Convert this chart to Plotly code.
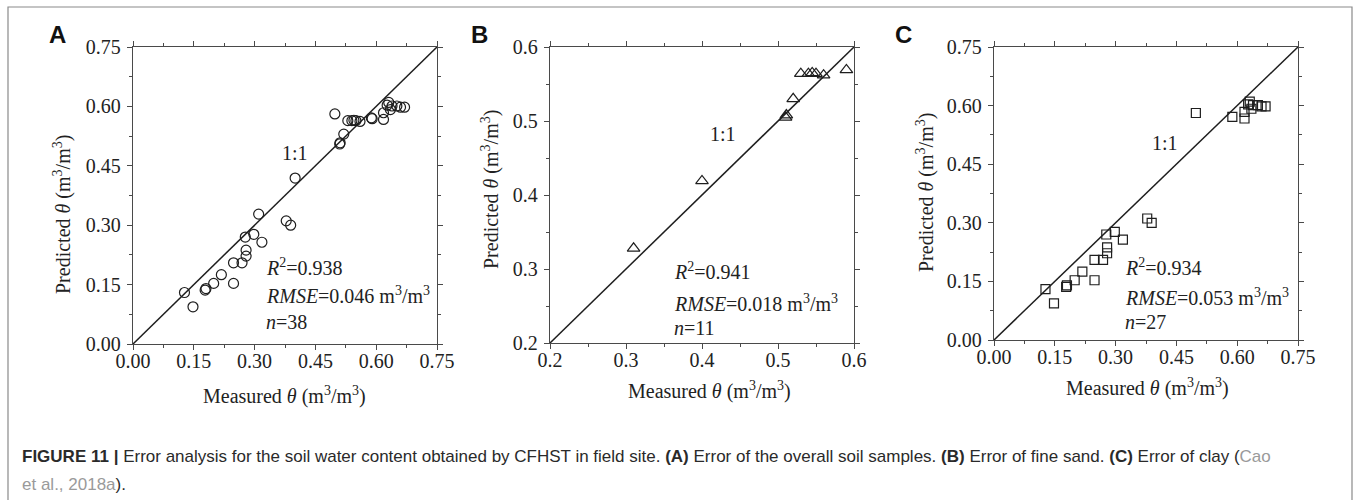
import plotly.graph_objects as go

# ---------------- data ----------------
sand_measured = [0.31, 0.40, 0.51, 0.511, 0.52, 0.53, 0.54, 0.545, 0.55, 0.56, 0.59]
sand_predicted = [0.328, 0.419, 0.505, 0.508, 0.53, 0.564, 0.564, 0.565, 0.564, 0.562, 0.569]

clay_measured = [0.127, 0.148, 0.178, 0.180, 0.199, 0.218, 0.248, 0.248, 0.269, 0.279,
                 0.279, 0.277, 0.298, 0.318, 0.378, 0.389, 0.498, 0.588, 0.618, 0.618,
                 0.627, 0.635, 0.639, 0.651, 0.660, 0.670, 0.631]
clay_predicted = [0.130, 0.094, 0.136, 0.140, 0.153, 0.175, 0.153, 0.205, 0.205, 0.222,
                  0.237, 0.270, 0.277, 0.257, 0.311, 0.300, 0.581, 0.571, 0.567, 0.584,
                  0.603, 0.592, 0.601, 0.601, 0.598, 0.598, 0.610]

overall_measured = sand_measured + clay_measured
overall_predicted = sand_predicted + clay_predicted

range_a = [0.0, 0.75]
range_b = [0.2, 0.6]
range_c = [0.0, 0.75]

ticks_a = [0.0, 0.15, 0.30, 0.45, 0.60, 0.75]
ticks_b = [0.2, 0.3, 0.4, 0.5, 0.6]
ticks_c = [0.0, 0.15, 0.30, 0.45, 0.60, 0.75]

stats_a = ["0.938", "0.046", "38"]
stats_b = ["0.941", "0.018", "11"]
stats_c = ["0.934", "0.053", "27"]

# ---------------- styling ----------------
SERIF = "Liberation Serif, Times New Roman, serif"
SANS = "Liberation Sans, Arial, sans-serif"
INK = "#1e1e1e"
AXC = "#4a4a4a"
W, H = 1356, 500

fig = go.Figure()

panels = [
    dict(ax="", xs=overall_measured, ys=overall_predicted, rng=range_a, ticks=ticks_a,
         fmt=".2f", minor=0.075, sym="circle-open", size=10, stats=stats_a,
         dom_x=(133, 437), dom_y=(47, 344),
         one=(0.40, 0.482), st=(0.322, 0.195, 0.124, 0.056),
         xt=(284, 395), yt=(63, 215), letter=("A", 57)),
    dict(ax="2", xs=sand_measured, ys=sand_predicted, rng=range_b, ticks=ticks_b,
         fmt=".1f", minor=0.05, sym="triangle-up-open", size=11, stats=stats_b,
         dom_x=(550, 854), dom_y=(47, 343),
         one=(0.428, 0.483), st=(0.36, 0.297, 0.254, 0.220),
         xt=(709, 390), yt=(490, 190), letter=("B", 479)),
    dict(ax="3", xs=clay_measured, ys=clay_predicted, rng=range_c, ticks=ticks_c,
         fmt=".2f", minor=0.075, sym="square-open", size=9, stats=stats_c,
         dom_x=(994, 1298), dom_y=(47, 340),
         one=(0.421, 0.503), st=(0.318, 0.1875, 0.111, 0.047),
         xt=(1147, 387), yt=(925, 193), letter=("C", 903)),
]

annotations = []
for p in panels:
    xa = "x" + p["ax"]
    ya = "y" + p["ax"]
    # 1:1 line spanning the axis range
    fig.add_trace(go.Scatter(x=p["rng"], y=p["rng"], mode="lines",
                             line=dict(color=INK, width=1.5),
                             xaxis=xa, yaxis=ya, showlegend=False, hoverinfo="skip"))
    fig.add_trace(go.Scatter(x=p["xs"], y=p["ys"], mode="markers",
                             marker=dict(symbol=p["sym"], size=p["size"], color=INK,
                                         line=dict(width=1.2, color=INK)),
                             xaxis=xa, yaxis=ya, showlegend=False))
    axis_common = dict(
        range=p["rng"], tickvals=p["ticks"], tickformat=p["fmt"],
        showgrid=False, zeroline=False, showline=True, linecolor=AXC, linewidth=1.3,
        mirror="allticks", ticks="outside", ticklen=5, tickwidth=1.2, tickcolor=AXC,
        tickfont=dict(family=SERIF, size=20, color="#222"),
        minor=dict(dtick=p["minor"], tick0=p["rng"][0], ticks="outside", ticklen=3,
                   tickwidth=1, tickcolor=AXC, showgrid=False),
    )
    x0, x1 = p["dom_x"]
    y0, y1 = p["dom_y"]
    fig.update_layout(**{
        "xaxis" + p["ax"]: dict(axis_common, domain=[x0 / W, x1 / W], anchor=ya,
                                ticklabelstandoff=-6),
        "yaxis" + p["ax"]: dict(axis_common, domain=[1 - y1 / H, 1 - y0 / H], anchor=xa,
                                ticklabelstandoff=2),
    })
    tf = dict(family=SERIF, size=20, color="#222")
    annotations += [
        dict(x=p["one"][0], y=p["one"][1], xref=xa, yref=ya, text="1:1",
             xanchor="center", yanchor="middle", showarrow=False, font=tf),
        dict(x=p["st"][0], y=p["st"][1], xref=xa, yref=ya, xanchor="left", yanchor="middle",
             text="<i>R</i><sup>2</sup>=" + p["stats"][0], showarrow=False, font=tf),
        dict(x=p["st"][0], y=p["st"][2], xref=xa, yref=ya, xanchor="left", yanchor="middle",
             text="<i>RMSE</i>=" + p["stats"][1] + " m<sup>3</sup>/m<sup>3</sup>",
             showarrow=False, font=tf),
        dict(x=p["st"][0], y=p["st"][3], xref=xa, yref=ya, xanchor="left", yanchor="middle",
             text="<i>n</i>=" + p["stats"][2], showarrow=False, font=tf),
        dict(x=p["xt"][0] / W, y=1 - p["xt"][1] / H, xref="paper", yref="paper",
             xanchor="center", yanchor="middle",
             text="Measured <i>θ</i> (m<sup>3</sup>/m<sup>3</sup>)", showarrow=False, font=tf),
        dict(x=p["yt"][0] / W, y=1 - p["yt"][1] / H, xref="paper", yref="paper",
             xanchor="center", yanchor="middle",
             text="Predicted <i>θ</i> (m<sup>3</sup>/m<sup>3</sup>)", showarrow=False,
             textangle=-90, font=tf),
        dict(x=p["letter"][1] / W, y=1 - 34 / H, xref="paper", yref="paper",
             xanchor="center", yanchor="middle",
             text="<b>" + p["letter"][0] + "</b>", showarrow=False,
             font=dict(family=SANS, size=24, color="#111")),
    ]

cap_font = dict(family=SANS, size=17, color="#2a2a2a")
annotations += [
    dict(x=20 / W, y=1 - 456 / H, xref="paper", yref="paper", xanchor="left", yanchor="middle",
         showarrow=False, font=cap_font,
         text="<b>FIGURE 11 |</b> Error analysis for the soil water content obtained by CFHST in field site. "
              "<b>(A)</b> Error of the overall soil samples. <b>(B)</b> Error of fine sand. "
              "<b>(C)</b> Error of clay (<span style='color:#9a9a9a'>Cao</span>"),
    dict(x=20 / W, y=1 - 484 / H, xref="paper", yref="paper", xanchor="left", yanchor="middle",
         showarrow=False, font=cap_font,
         text="<span style='color:#9a9a9a'>et al., 2018a</span>)."),
]

fig.update_layout(
    width=W, height=H, margin=dict(l=0, r=0, t=0, b=0, autoexpand=False),
    paper_bgcolor="white", plot_bgcolor="white",
    annotations=annotations,
    shapes=[
        dict(type="rect", xref="paper", yref="paper", x0=8 / W, x1=1352 / W,
             y0=-0.1, y1=1 - 7 / H, line=dict(color="#8a8a8a", width=1.2)),
    ],
)

fig.write_html("out.html", config={"displayModeBar": False},
               post_script="document.body.style.margin='0';document.body.style.overflow='hidden';")
